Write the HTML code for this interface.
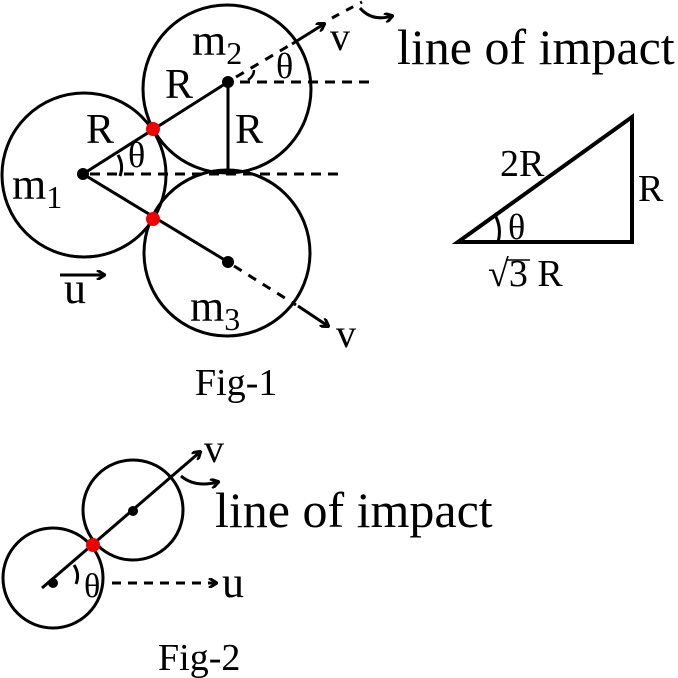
<!DOCTYPE html>
<html><head><style>body{margin:0;background:#fff}svg{display:block}text{font-family:"Liberation Serif",serif;fill:#000}</style></head>
<body>
<svg width="678" height="678" viewBox="0 0 678 678" xmlns="http://www.w3.org/2000/svg">
<defs><marker id="a" markerWidth="10" markerHeight="10" refX="8" refY="5" orient="auto" markerUnits="userSpaceOnUse"><path d="M1,0 L9,5 L1,10" fill="none" stroke="#000" stroke-width="3"/></marker></defs>
<g fill="none" stroke="#000" stroke-width="3">
<circle cx="84" cy="175" r="82"/>
<circle cx="227" cy="89" r="84"/>
<circle cx="227" cy="253" r="83"/>
<line x1="90" y1="174" x2="345" y2="174" stroke-dasharray="10,7"/>
<line x1="240" y1="82" x2="372" y2="82" stroke-dasharray="10,7"/>
<line x1="83" y1="174" x2="228" y2="82"/>
<line x1="83" y1="174" x2="228" y2="262"/>
<line x1="228" y1="82" x2="228" y2="173"/>
<line x1="236" y1="77" x2="290" y2="45" stroke-dasharray="9,8"/>
<line x1="292" y1="44" x2="324" y2="24" marker-end="url(#a)"/>
<line x1="332" y1="18" x2="362" y2="2" stroke-dasharray="8,8"/>
<path d="M360,8 Q372,22 392,16" marker-end="url(#a)"/>
<line x1="234" y1="266" x2="296" y2="305" stroke-dasharray="9,8"/>
<line x1="298" y1="306" x2="328" y2="326" marker-end="url(#a)"/>
<path d="M118,155 Q124,165 120,176"/>
<path d="M248,80 Q254,76 254,70" stroke-width="2.5"/>
<line x1="60" y1="275" x2="104" y2="275" marker-end="url(#a)"/>
<polygon points="458,242 632,242 632,117" stroke-width="4"/>
<path d="M495,215 Q502,228 498,242"/>
<circle cx="53" cy="578" r="50"/>
<circle cx="133" cy="510" r="50"/>
<line x1="42" y1="588" x2="200" y2="452" marker-end="url(#a)"/>
<path d="M181,476 Q195,488 218,482" marker-end="url(#a)"/>
<line x1="112" y1="583" x2="216" y2="583" stroke-dasharray="9,7" marker-end="url(#a)"/>
<path d="M74,565 Q80,574 76,584"/>
<line x1="506" y1="260" x2="530" y2="260" stroke-width="1.5"/>
</g>
<g fill="#000"><circle cx="83" cy="174" r="6"/><circle cx="228" cy="82" r="6"/><circle cx="228" cy="262" r="6"/><circle cx="53" cy="583" r="5"/><circle cx="133" cy="511" r="5"/></g>
<g fill="#e00"><circle cx="153" cy="129" r="7"/><circle cx="153" cy="219" r="7"/><circle cx="93" cy="545" r="7"/></g>
<text x="192" y="55" font-size="44">m<tspan font-size="32" dy="9">2</tspan></text>
<text x="12" y="199" font-size="44">m<tspan font-size="32" dy="9">1</tspan></text>
<text x="190" y="321" font-size="44">m<tspan font-size="32" dy="9">3</tspan></text>
<text x="165" y="98" font-size="42">R</text>
<text x="86" y="143" font-size="42">R</text>
<text x="235" y="143" font-size="42">R</text>
<text x="128" y="167" font-size="36">θ</text>
<text x="276" y="78" font-size="36">θ</text>
<text x="330" y="50" font-size="40">v</text>
<text x="336" y="347" font-size="40">v</text>
<text x="397" y="64" font-size="50">line of impact</text>
<text x="64" y="303" font-size="44">u</text>
<text x="195" y="395" font-size="38">Fig-1</text>
<text x="500" y="176" font-size="38">2R</text>
<text x="638" y="201" font-size="38">R</text>
<text x="508" y="239" font-size="36">θ</text>
<text x="488" y="286" font-size="38">√3 R</text>
<text x="204" y="462" font-size="40">v</text>
<text x="215" y="527" font-size="50">line of impact</text>
<text x="84" y="597" font-size="34">θ</text>
<text x="222" y="597" font-size="44">u</text>
<text x="158" y="670" font-size="38">Fig-2</text>
</svg>
</body></html>
